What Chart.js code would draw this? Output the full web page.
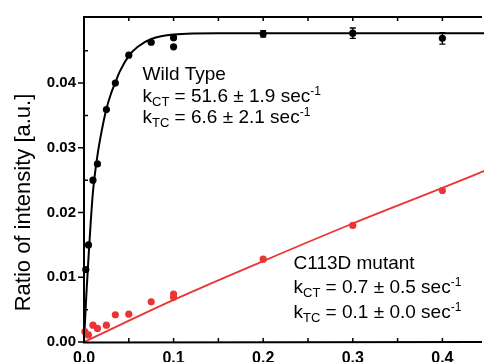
<!DOCTYPE html>
<html><head><meta charset="utf-8">
<script src="https://cdn.jsdelivr.net/npm/chart.js@4/dist/chart.umd.min.js"></script>
<style>html,body{margin:0;padding:0;background:#fff;overflow:hidden}#wrap{width:484px;height:362px;position:relative}</style>
</head><body><div id="wrap"><canvas id="c" width="484" height="362"></canvas></div>
<script>
// ---- tick labels ----
const xTicks = [0, 0.1, 0.2, 0.3, 0.4];
const xMinor = [0.05, 0.15, 0.25, 0.35];
const yTicks = [0, 0.01, 0.02, 0.03, 0.04];
const yMinor = [0.005, 0.015, 0.025, 0.035, 0.045];

// ---- Wild Type data ----
const wtX   = [0.002, 0.005, 0.010, 0.015, 0.025, 0.035, 0.050, 0.075, 0.100, 0.100, 0.200, 0.300, 0.400];
const wtY   = [0.0112, 0.0150, 0.0250, 0.0275, 0.0359, 0.0400, 0.0443, 0.0463, 0.0470, 0.0456, 0.0476, 0.0477, 0.0469];
const wtErr = [0, 0, 0, 0, 0, 0, 0, 0, 0, 0, 0.0005, 0.0008, 0.0009];

// ---- Wild Type fit curve ----
const wtFitX = [0, 0.0025, 0.005, 0.0075, 0.01, 0.015, 0.02, 0.025, 0.03, 0.035, 0.04, 0.05, 0.06, 0.075, 0.1, 0.15, 0.2, 0.3, 0.45];
const wtFitY = [0, 0.0070, 0.0130, 0.0185, 0.0232, 0.0288, 0.0328, 0.0360, 0.0383, 0.0401, 0.0418, 0.0442, 0.0456, 0.0468, 0.0475, 0.0477, 0.0477, 0.0477, 0.0477];

// ---- C113D mutant data ----
const mutX = [0.001, 0.005, 0.010, 0.015, 0.025, 0.035, 0.050, 0.075, 0.100, 0.100, 0.200, 0.300, 0.400];
const mutY = [0.0016, 0.0011, 0.0026, 0.0021, 0.0026, 0.0042, 0.0043, 0.0062, 0.0074, 0.0069, 0.0128, 0.0180, 0.0234];

// ---- C113D fit line ----
const mutFitX = [0, 0.1, 0.2, 0.3, 0.4, 0.45];
const mutFitY = [0, 0.0065, 0.0125, 0.0183, 0.0238, 0.0266];

const FONT = "'Liberation Sans', Arial, sans-serif";
const RED = '#ec3434';

function pts(xs, ys){ return xs.map((x,i)=>({x:x, y:ys[i]})); }

const framePlugin = {
  id: 'frame',
  afterDatasetsDraw(chart){
    const ctx = chart.ctx, a = chart.chartArea;
    const xs = chart.scales.x, ys = chart.scales.y;
    ctx.save();
    // error bars
    ctx.strokeStyle = '#000'; ctx.lineWidth = 1.3;
    wtX.forEach((x,i)=>{
      const e = wtErr[i]; if(!e) return;
      const px = xs.getPixelForValue(x);
      const y1 = ys.getPixelForValue(wtY[i]+e), y2 = ys.getPixelForValue(wtY[i]-e);
      ctx.beginPath();
      ctx.moveTo(px, y1); ctx.lineTo(px, y2);
      ctx.moveTo(px-3, y1); ctx.lineTo(px+3, y1);
      ctx.moveTo(px-3, y2); ctx.lineTo(px+3, y2);
      ctx.stroke();
    });
    // frame
    ctx.lineWidth = 2; ctx.strokeStyle = '#000';
    ctx.beginPath();
    ctx.moveTo(a.left, a.top); ctx.lineTo(a.left, a.bottom+0.5); ctx.lineTo(a.right+2, a.bottom);
    ctx.moveTo(a.left-1, a.top); ctx.lineTo(a.right+2, a.top);
    ctx.stroke();
    // x ticks (inward) bottom and top
    ctx.lineWidth = 1.5;
    ctx.beginPath();
    xTicks.concat(xMinor).forEach(v=>{
      if (v===0) return;
      const px = xs.getPixelForValue(v);
      ctx.moveTo(px, a.bottom); ctx.lineTo(px, a.bottom-4);
      ctx.moveTo(px, a.top); ctx.lineTo(px, a.top+4);
    });
    // y major ticks (outward), minor (inward)
    yTicks.forEach(v=>{
      const py = ys.getPixelForValue(v);
      ctx.moveTo(a.left, py); ctx.lineTo(a.left-6, py);
    });
    yMinor.forEach(v=>{
      const py = ys.getPixelForValue(v);
      ctx.moveTo(a.left, py); ctx.lineTo(a.left+4, py);
    });
    ctx.stroke();

    // y axis title
    ctx.fillStyle = '#000';
    ctx.font = '22px ' + FONT;
    ctx.textAlign = 'center'; ctx.textBaseline = 'alphabetic';
    ctx.translate(30, 202.5);
    ctx.rotate(-Math.PI/2);
    ctx.fillText('Ratio of intensity [a.u.]', 0, 0);
    ctx.restore();

    // annotations
    function rich(x, y, segs){
      ctx.save();
      ctx.fillStyle = '#000'; ctx.textAlign = 'left'; ctx.textBaseline = 'alphabetic';
      let cx = x;
      segs.forEach(s=>{
        ctx.font = s[1] + 'px ' + FONT;
        ctx.fillText(s[0], cx, y + (s[2]||0));
        cx += ctx.measureText(s[0]).width;
      });
      ctx.restore();
    }
    rich(142.5, 80, [['Wild Type',19]]);
    rich(142.5, 101.7, [['k',19],['CT',13,4],[' = 51.6 \u00b1 1.9 sec',19],['-1',12,-7]]);
    rich(142.5, 123.3, [['k',19],['TC',13,4],[' = 6.6 \u00b1 2.1 sec',19],['-1',12,-7]]);
    rich(293.5, 269, [['C113D mutant',19]]);
    rich(293.5, 293.3, [['k',19],['CT',13,4],[' = 0.7 \u00b1 0.5 sec',19],['-1',12,-7]]);
    rich(293.5, 317.5, [['k',19],['TC',13,4],[' = 0.1 \u00b1 0.0 sec',19],['-1',12,-7]]);
  }
};

new Chart(document.getElementById('c'), {
  type: 'scatter',
  data: {
    datasets: [
      { label:'Wild Type', data: pts(wtX, wtY), backgroundColor:'#000', borderWidth:0, pointRadius:3.6, clip:false, order:1 },
      { label:'C113D mutant', data: pts(mutX, mutY), backgroundColor:RED, borderWidth:0, pointRadius:3.6, clip:false, order:2 },
      { label:'WT fit', type:'line', data: pts(wtFitX, wtFitY), borderColor:'#000', borderWidth:2, pointRadius:0, fill:false, cubicInterpolationMode:'monotone', clip:false, order:3 },
      { label:'C113D fit', type:'line', data: pts(mutFitX, mutFitY), borderColor:RED, borderWidth:1.8, pointRadius:0, fill:false, cubicInterpolationMode:'monotone', clip:false, order:4 }
    ]
  },
  options: {
    responsive: false,
    animation: false,
    events: [],
    layout: { padding: { top: 13, right: 0, bottom: 0, left: 0 } },
    plugins: { legend:{display:false}, tooltip:{enabled:false} },
    scales: {
      x: {
        type:'linear', min:0, max:0.442,
        afterBuildTicks: s => { s.ticks = xTicks.map(v=>({value:v})); },
        afterFit: s => { s.height = 20; },
        grid: { display:false, drawTicks:false },
        border: { display:false },
        ticks: { color:'#000', font:{family:FONT, size:16, weight:'bold'}, padding:7, maxRotation:0, autoSkip:false,
                 callback: v => Number(v).toFixed(1) }
      },
      y: {
        type:'linear', min:0, max:0.0502,
        afterBuildTicks: s => { s.ticks = yTicks.map(v=>({value:v})); },
        afterFit: s => { s.width = 84; },
        grid: { display:false, drawTicks:false },
        border: { display:false },
        ticks: { color:'#000', font:{family:FONT, size:15, weight:'bold'}, padding:8, autoSkip:false,
                 callback: v => Number(v).toFixed(2) }
      }
    }
  },
  plugins: [framePlugin]
});
</script>
</body></html>
